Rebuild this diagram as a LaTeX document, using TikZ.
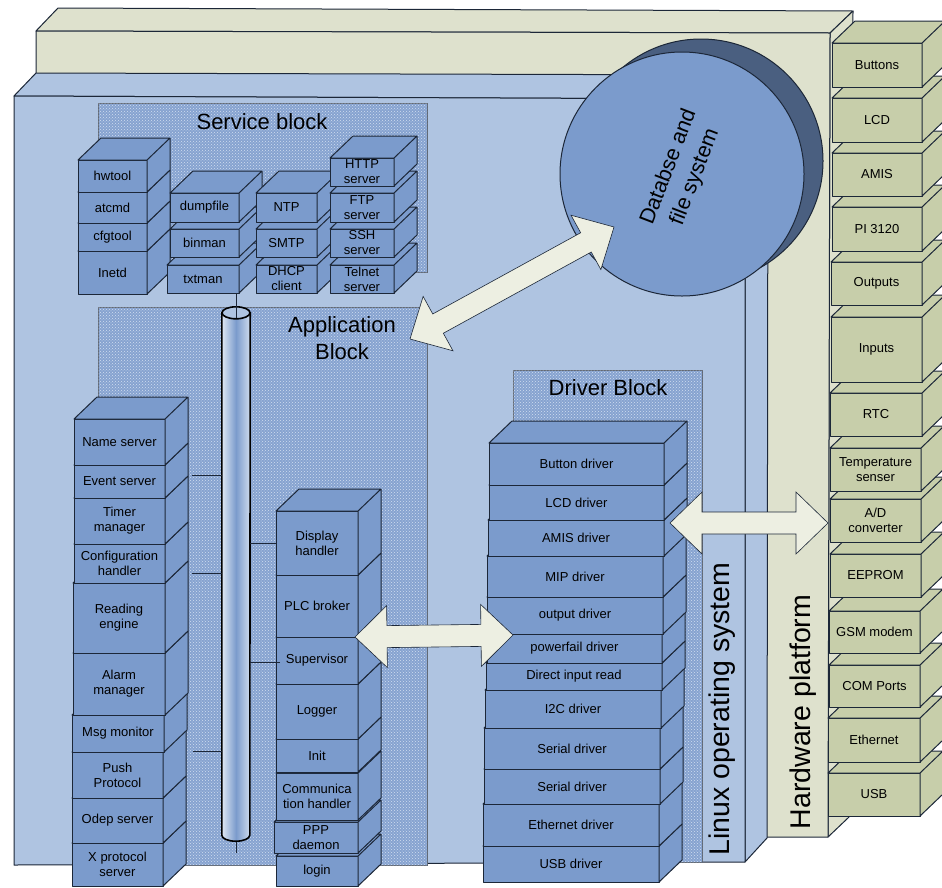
\documentclass[tikz,border=0pt]{standalone}
\usepackage{fontspec}
\setmainfont{Liberation Sans}
\usetikzlibrary{calc,patterns}

\definecolor{hwfront}{HTML}{DEE1CD}
\definecolor{osfront}{HTML}{AFC4E1}
\definecolor{boxblue}{HTML}{7B9BCC}
\definecolor{boxolive}{HTML}{C7CEAA}
\definecolor{diskdark}{HTML}{4A5F80}
\definecolor{arrowfill}{HTML}{EDEFE2}
\definecolor{linedark}{HTML}{1C2738}
\definecolor{dotback}{HTML}{86A3D0}
\definecolor{dotfront}{HTML}{D2DEF0}

\tikzset{
	frontbox/.style={draw,align=center,inner sep=0pt,outer sep=0pt,font=\fontsize{13}{15}\selectfont},
	bluebox/.style={fill=boxblue,draw=linedark,line width=1pt,line join=round},
	olivebox/.style={fill=boxolive,draw=linedark,line width=1pt,line join=round},
	layerface/.style={draw=linedark,line width=1pt,line join=round},
	dotblock/.style={fill=dotback,draw=linedark!70,line width=.8pt,postaction={pattern=crosshatch dots,pattern color=dotfront}},
	blocklabel/.style={align=center,inner sep=0pt,font=\fontsize{22}{27}\selectfont},
	layerlabel/.style={rotate=90,inner sep=0pt,font=\fontsize{28.5}{32}\selectfont},
	bigarrow/.style={fill=arrowfill,draw=linedark,line width=.6pt,line join=miter},
	tapline/.style={draw=linedark,line width=1pt},
	pipeline/.style={draw=black,line width=1.6pt}
}

% one box of a stack: name, left, top, right, bottom, text
\newcommand{\stackbox}[7][bluebox]{
	\pgfmathsetmacro{\boxw}{#5-#3}
	\pgfmathsetmacro{\boxh}{#6-#4}
	\node[frontbox,#1,minimum width=\boxw,minimum height=\boxh] (#2) at ({(#3+#5)/2},{(#4+#6)/2}) {#7};
	\draw[#1] (#2.north west) -- ++(23,-22) -- ($(#2.north east)+(23,-22)$) -- ($(#2.south east)+(23,-22)$) -- (#2.south east) -- (#2.north east) -- cycle (#2.north east) -- ++(23,-22);
}

% wide arrow with a head at both ends
\newcommand{\wideconnect}[2]{
	\draw[bigarrow] (#1) -- ($(#1)!32pt!(#2)!31pt!90:(#2)$) -- ($(#1)!32pt!(#2)!11pt!90:(#2)$)
		-- ($(#2)!32pt!(#1)!11pt!-90:(#1)$) -- ($(#2)!32pt!(#1)!31pt!-90:(#1)$) -- (#2)
		-- ($(#2)!32pt!(#1)!31pt!90:(#1)$) -- ($(#2)!32pt!(#1)!11pt!90:(#1)$)
		-- ($(#1)!32pt!(#2)!11pt!-90:(#2)$) -- ($(#1)!32pt!(#2)!31pt!-90:(#2)$) -- cycle;
}

\begin{document}
\begin{tikzpicture}[x=1pt,y=-1pt]
	\useasboundingbox (0,0) rectangle (942,887);
	\clip (0,0) rectangle (942,887);
	% Hardware layer
	\draw[layerface,fill=hwfront] (36,31) -- (58,8) -- (853,11) -- (830,33) -- cycle;
	\draw[layerface,fill=hwfront] (830,33) -- (853,11) -- (849,817) -- (828,837) -- cycle;
	\draw[layerface,fill=hwfront] (36,31) -- (830,33) -- (828,837) -- (36,837) -- cycle;
	% Linux layer
	\draw[layerface,fill=osfront] (14,96) -- (36,73) -- (768,75) -- (745,99) -- cycle;
	\draw[layerface,fill=osfront] (745,99) -- (768,75) -- (767,838) -- (745,862) -- cycle;
	\draw[layerface,fill=osfront] (14,96) -- (745,99) -- (745,862) -- (14,865) -- cycle;
	\node[layerlabel] (osLabel) at (722,709) {Linux operating system};
	\node[layerlabel] (hwLabel) at (803,712) {Hardware platform};
	% Dotted blocks
	\draw[dotblock] (98,103) rectangle (427,272);
	\draw[dotblock] (98,307) rectangle (427,865);
	\draw[dotblock] (513,370) rectangle (702,862);
	\node[blocklabel] (serviceLabel) at (262,122) {Service block};
	\node[blocklabel] (appLabel) at (342,338) {Application\\Block};
	\node[blocklabel] (driverLabel) at (608,388) {Driver Block};
	% Database disk
	\node[circle,draw=linedark,line width=1pt,fill=diskdark,minimum size=244,inner sep=0pt] (dbBack) at (701,161) {};
	\node[circle,draw=linedark,line width=1pt,fill=boxblue,minimum size=244,inner sep=0pt] (dbDisk) at (682,174) {};
	\node[rotate=69,align=center,inner sep=0pt,font=\fontsize{21.5}{28}\selectfont] (dbLabel) at (682,172) {Databse and\\file system};
	% Service stacks
	\foreach \nm/\xa/\ya/\xb/\yb/\lbl in {inetd/78/251/147/294/Inetd,cfgtool/78/223/147/251/cfgtool,atcmd/78/192/147/223/atcmd,hwtool/78/160/147/192/hwtool}
		{\stackbox{\nm}{\xa}{\ya}{\xb}{\yb}{\lbl}}
	\foreach \nm/\xa/\ya/\xb/\yb/\lbl in {txtman/167/265/239/293/txtman,binman/170/229/239/257/binman,dumpfile/170/193/239/222/dumpfile}
		{\stackbox{\nm}{\xa}{\ya}{\xb}{\yb}{\lbl}}
	\foreach \nm/\ya/\yb/\lbl in {dhcp/265/293/DHCP\\client,smtp/229/257/SMTP,ntp/193/222/NTP}
		{\stackbox{\nm}{256}{\ya}{317}{\yb}{\lbl}}
	\foreach \nm/\ya/\yb/\lbl in {telnet/265/293/Telnet\\server,ssh/229/257/SSH\\server,ftp/193/222/FTP\\server,http/158/186/HTTP\\server}
		{\stackbox{\nm}{330}{\ya}{394}{\yb}{\lbl}}
	% Bus pipe
	\node[inner sep=0pt,minimum width=28,minimum height=522] (pipe) at (236,574) {};
	\coordinate (busTop) at (236,293);
	\coordinate (busEnd) at (236,853);
	\coordinate (tapEvent) at (192,475);
	\coordinate (tapConfig) at (192,573);
	\coordinate (tapPush) at (193,751);
	\draw[tapline] (pipe.south) -- (busEnd);
	\draw[pipeline,left color=osfront!40!white,right color=osfront!60!white,middle color=boxblue] (pipe.north west) -- (pipe.south west) arc[start angle=180,end angle=360,x radius=14pt,y radius=6pt] -- (pipe.north east) -- cycle;
	\draw[pipeline,fill=osfront] (pipe.north) ellipse[x radius=14pt,y radius=6pt];
	\draw[tapline] (busTop) -- ($(pipe.north)+(0,5)$);
	\draw[tapline] (tapEvent) -- (tapEvent -| pipe.west);
	\draw[tapline] (tapConfig) -- (tapConfig -| pipe.west);
	\draw[tapline] (tapPush) -- (tapPush -| pipe.west);
	% Application stacks
	\foreach \nm/\xa/\ya/\xb/\yb/\lbl in {xproto/72/843/163/886/X protocol\\server,odep/72/798/163/843/Odep server,push/72/752/163/798/Push\\Protocol,msgmon/72/715/164/752/Msg monitor,alarm/73/653/165/715/Alarm\\manager,reading/73/583/165/653/Reading\\engine,config/74/544/165/583/Configuration\\handler,timer/74/498/165/544/Timer\\manager,event/74/465/165/498/Event server,nameserver/74/419/165/465/Name server}
		{\stackbox{\nm}{\xa}{\ya}{\xb}{\yb}{\lbl}}
	\foreach \nm/\xa/\ya/\yb/\lbl in {login/276/856/886/login,ppp/274/822/853/PPP\\daemon,comm/276/773/820/Communica\\tion handler,init/276/739/772/Init,logger/276/684/739/Logger,supervisor/276/637/684/Supervisor,plc/276/575/637/PLC broker,display/276/511/575/Display\\handler}
		{\stackbox{\nm}{\xa}{\ya}{358}{\yb}{\lbl}}
	\draw[tapline] (display.west) -- (display.west -| pipe.east);
	\coordinate (tapSuper) at ($(supervisor.west)+(4,2)$);
	\draw[tapline] (tapSuper) -- (tapSuper -| pipe.east);
	% Driver stack
	\foreach \nm/\xa/\ya/\xb/\yb/\lbl in {usbdrv/483/846/659/882/USB driver,ethdrv/483/804/659/846/Ethernet driver,serialb/484/769/660/804/Serial driver,seriala/484/728/660/769/Serial driver,itwoc/485/690/661/728/I2C driver,dinput/486/663/662/690/Direct input read,powerfail/487/634/662/663/powerfail driver,outdrv/487/597/663/634/output driver,mipdrv/487/556/663/597/MIP driver,amisdrv/488/520/664/556/AMIS driver,lcddrv/489/485/664/520/LCD driver,buttondrv/489/443/664/485/Button driver}
		{\stackbox{\nm}{\xa}{\ya}{\xb}{\yb}{\lbl}}
	% Peripheral stack
	\foreach \nm/\xa/\ya/\xb/\yb/\lbl in {usb/828/773/920/816/USB,ethernet/828/718/920/762/Ethernet,com/829/665/920/707/COM Ports,gsm/829/611/920/653/GSM modem,eeprom/830/554/921/597/EEPROM,adconv/830/499/921/542/{A/D\\converter},tempsens/830/448/921/491/Temperature\\senser,rtc/830/393/922/436/RTC,inputs/831/317/922/382/Inputs,outputs/831/262/922/305/Outputs,pi/832/207/922/251/PI 3120,amis/832/153/922/196/AMIS,lcd/832/98/922/142/LCD,buttons/832/43/922/87/Buttons}
		{\stackbox[olivebox]{\nm}{\xa}{\ya}{\xb}{\yb}{\lbl}}
	% Wide arrows
	\coordinate (appTip) at (410,339);
	\coordinate (dbTip) at (614,227);
	\coordinate (brokerTip) at (355,637);
	\coordinate (driverTip) at (513,635);
	\coordinate (amisTip) at (670,523);
	\coordinate (adTip) at (828,523);
	\wideconnect{appTip}{dbTip}
	\wideconnect{brokerTip}{driverTip}
	\wideconnect{amisTip}{adTip}
\end{tikzpicture}
\end{document}
